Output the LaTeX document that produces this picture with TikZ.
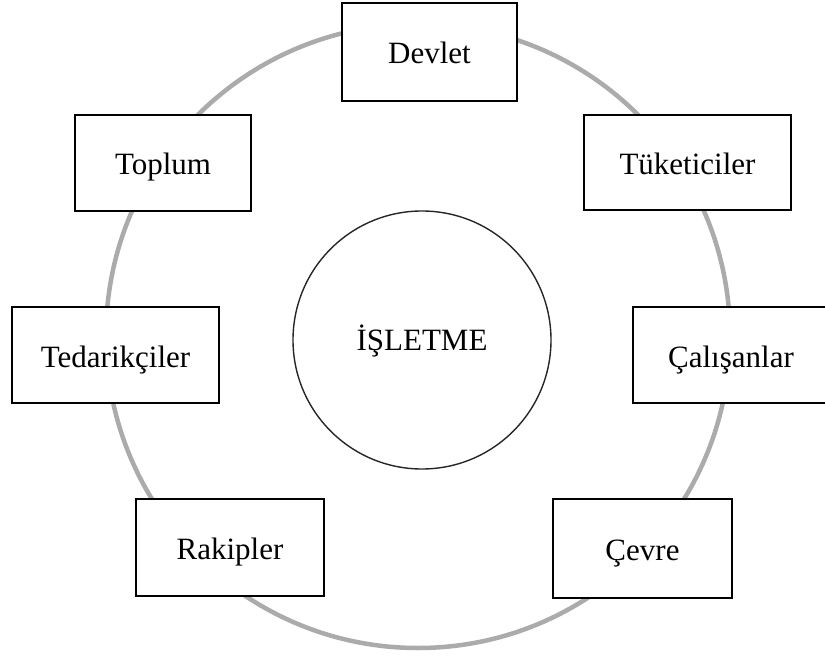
\documentclass[tikz,border=0pt]{standalone}
\usepackage{fontspec}
\setmainfont{Liberation Serif}
\begin{document}
\begin{tikzpicture}[x=1pt,y=-1pt,
  party/.style={draw=black, line width=1.6pt, fill=white, rectangle,
    inner sep=0pt, text height=26pt, text depth=2pt,
    font=\fontsize{31}{35}\selectfont},
  firm/.style={draw=black!85, line width=1.4pt, fill=white, circle,
    minimum size=258pt, inner sep=0pt, text height=24pt, text depth=4pt,
    font=\fontsize{31}{35}\selectfont},
  ring/.style={draw=black!33, line width=4.5pt}]
  \useasboundingbox (0,0) rectangle (825,658);
  % outer ring of stakeholders
  \draw[ring] (418,336) circle[radius=312];
  % central firm
  \node[firm] (firm) at (422,340) {İŞLETME};
  % stakeholder boxes
  \node[party, minimum width=175pt, minimum height=98pt] (devlet) at (429.5,52) {Devlet};
  \node[party, minimum width=176pt, minimum height=96pt] (toplum) at (163,163) {Toplum};
  \node[party, minimum width=207pt, minimum height=95pt] (tuketici) at (687.5,162.5) {Tüketiciler};
  \node[party, minimum width=207pt, minimum height=96pt] (tedarik) at (115.5,355) {Tedarikçiler};
  \node[party, minimum width=196pt, minimum height=96pt] (calisan) at (731,355) {Çalışanlar};
  \node[party, minimum width=188pt, minimum height=97pt] (rakip) at (230,547.5) {Rakipler};
  \node[party, minimum width=179pt, minimum height=99pt] (cevre) at (642.5,548.5) {Çevre};
\end{tikzpicture}
\end{document}
